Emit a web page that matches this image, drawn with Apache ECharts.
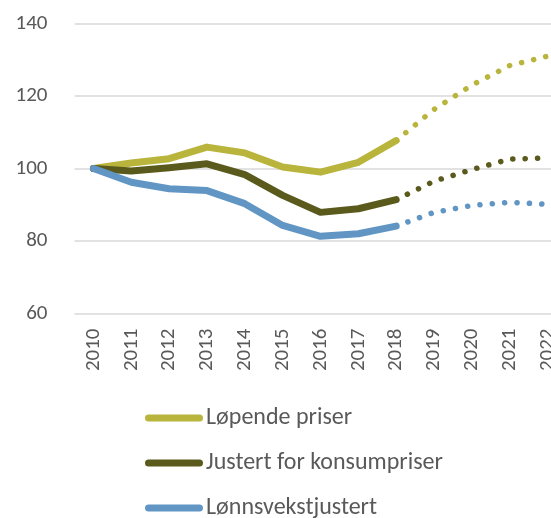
<!DOCTYPE html>
<html><head><meta charset="utf-8">
<script src="https://cdn.jsdelivr.net/npm/echarts@6/dist/echarts.min.js"></script>
<style>html,body{margin:0;padding:0;background:#fff}#c{width:551px;height:518px}</style>
</head><body><div id="c"></div>
<script>
var years = ['2010','2011','2012','2013','2014','2015','2016','2017','2018','2019','2020','2021','2022'];
var yTicks = [60, 80, 100, 120, 140];
// Actual values 2010-2018, projections 2018-2022
var lopendeActual = [100, 101.5, 102.7, 105.9, 104.3, 100.4, 99.0, 101.7, 107.7, null, null, null, null];
var lopendeProj   = [null, null, null, null, null, null, null, null, 107.7, 116.3, 123.0, 128.4, 131.0];
var konsumActual  = [100, 99.3, 100.2, 101.3, 98.3, 92.6, 87.9, 88.9, 91.4, null, null, null, null];
var konsumProj    = [null, null, null, null, null, null, null, null, 91.4, 96.5, 99.7, 102.6, 102.9];
var lonnActual    = [100, 96.2, 94.4, 93.9, 90.3, 84.3, 81.3, 82.0, 84.1, null, null, null, null];
var lonnProj      = [null, null, null, null, null, null, null, null, 84.1, 87.9, 89.8, 90.7, 90.1];
var names = ['Løpende priser', 'Justert for konsumpriser', 'Lønnsvekstjustert'];
var colors = ['#B9B43B', '#5A5A1C', '#6196C4'];

var FONT = 'Carlito, Lato, sans-serif';
var chart = echarts.init(document.getElementById('c'), null, {renderer: 'canvas'});
var capsule = 'path://M3.5,0 L54.5,0 A3.5,3.5 0 0 1 54.5,7 L3.5,7 A3.5,3.5 0 0 1 3.5,0 Z';
function solid(name, data, color) {
  return {name: name, type: 'line', data: data, symbol: 'none', z: 3,
    lineStyle: {color: color, width: 7, cap: 'round', join: 'round'}, itemStyle: {color: color}};
}
function dotted(name, data, color) {
  return {name: name + ' (proj)', type: 'line', data: data, symbol: 'none', z: 2,
    lineStyle: {color: color, width: 5.5, cap: 'round', type: [0.1, 12.3]}, itemStyle: {color: color}};
}
chart.setOption({
  animation: false,
  grid: {left: 74.5, top: 23.5, right: -15.5, bottom: 204.5, containLabel: false, outerBoundsMode: 'none'},
  legend: {
    data: names.map(function(n){ return {name: n, icon: capsule}; }),
    orient: 'vertical', left: 145, top: 406, height: 120, padding: 0,
    itemWidth: 58, itemHeight: 7, itemGap: 21,
    textStyle: {fontFamily: FONT, fontSize: 24, color: '#595959', padding: [0, 0, 0, -2]},
    selectedMode: false
  },
  xAxis: {
    type: 'category', data: years, boundaryGap: true,
    axisLine: {show: false}, axisTick: {show: false},
    axisLabel: {rotate: 90, margin: 15, fontFamily: FONT, fontSize: 21, color: '#595959', interval: 0}
  },
  yAxis: {
    type: 'value', min: yTicks[0], max: yTicks[yTicks.length - 1], interval: 20,
    axisLine: {show: false}, axisTick: {show: false},
    axisLabel: {margin: 27, fontFamily: FONT, fontSize: 21, color: '#595959'},
    splitLine: {lineStyle: {color: '#D9D9D9', width: 1.5}}
  },
  series: [
    solid(names[0], lopendeActual, colors[0]),
    solid(names[1], konsumActual, colors[1]),
    solid(names[2], lonnActual, colors[2]),
    dotted(names[0], lopendeProj, colors[0]),
    dotted(names[1], konsumProj, colors[1]),
    dotted(names[2], lonnProj, colors[2])
  ]
});
</script></body></html>
